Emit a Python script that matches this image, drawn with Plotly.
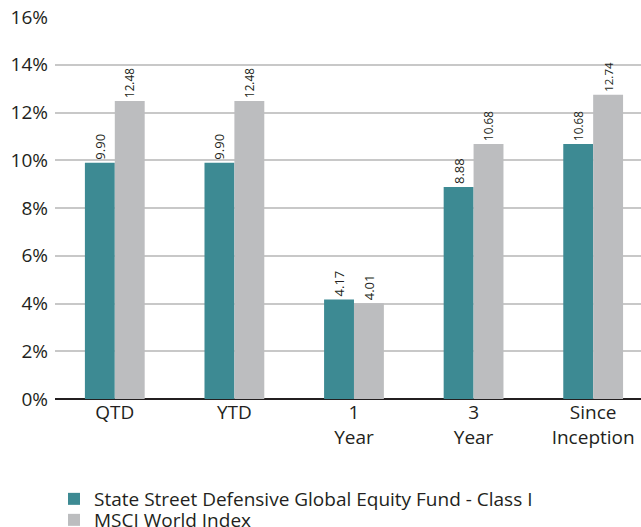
import plotly.graph_objects as go

categories = ["QTD", "YTD", "1<br>Year", "3<br>Year", "Since<br>Inception"]
fund_values = [9.90, 9.90, 4.17, 8.88, 10.68]
index_values = [12.48, 12.48, 4.01, 10.68, 12.74]
fund_name = "State Street Defensive Global Equity Fund - Class I"
index_name = "MSCI World Index"
y_ticks = [0, 2, 4, 6, 8, 10, 12, 14, 16]
y_tick_labels = [f"{v}%" for v in y_ticks]

FONT = "Open Sans"
TXT = "#231f20"

fig = go.Figure()
fig.add_trace(go.Bar(
    x=categories, y=fund_values, name=fund_name, legend="legend",
    marker=dict(color="#3d8a93", line=dict(width=0)),
    text=[f"{v:.2f}" for v in fund_values], textposition="outside",
    textangle=-90, textfont=dict(size=13, color=TXT, family=FONT),
    cliponaxis=False,
))
fig.add_trace(go.Bar(
    x=categories, y=index_values, name=index_name, legend="legend2",
    marker=dict(color="#bcbdbf", line=dict(width=0)),
    text=[f"{v:.2f}" for v in index_values], textposition="outside",
    textangle=-90, textfont=dict(size=13, color=TXT, family=FONT),
    cliponaxis=False,
))

leg_common = dict(
    orientation="v", xref="container", yref="container",
    x=54 / 641, xanchor="left", yanchor="middle",
    font=dict(size=19, color=TXT, family=FONT),
    bgcolor="rgba(0,0,0,0)", borderwidth=0,
)

fig.update_layout(
    width=641, height=527,
    margin=dict(l=55, r=0, t=17, b=128, autoexpand=False),
    paper_bgcolor="white", plot_bgcolor="white",
    barmode="group", bargap=0.5, bargroupgap=0,
    font=dict(family=FONT, color=TXT, size=19),
    showlegend=True,
    legend=dict(y=1 - 499 / 527, **leg_common),
    legend2=dict(y=1 - 520 / 527, **leg_common),
)
fig.update_xaxes(
    type="category", range=[-0.5, 4.4],
    showgrid=False, showline=False, zeroline=False,
    ticks="", tickfont=dict(size=19, color=TXT, family=FONT),
)
fig.update_yaxes(
    range=[0, 16], tickvals=y_ticks, ticktext=y_tick_labels,
    showgrid=True, gridcolor="#c8c8c8", gridwidth=1.5,
    zeroline=True, zerolinecolor="#231f20", zerolinewidth=1.5,
    showline=False, ticks="", ticklabelstandoff=6,
    tickfont=dict(size=19, color=TXT, family=FONT),
)

fig.write_html(
    "out.html",
    config={"displayModeBar": False},
    post_script="document.body.style.margin='0';document.body.style.overflow='hidden';",
)
